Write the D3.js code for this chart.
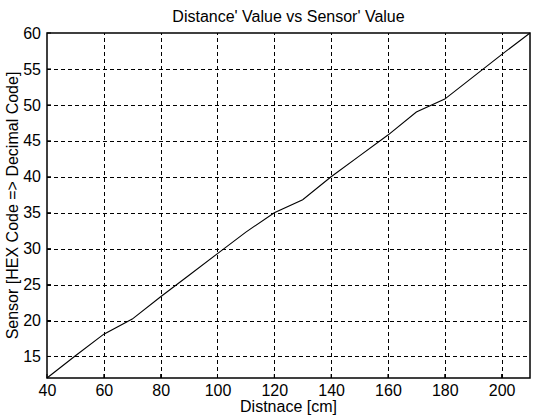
<!DOCTYPE html>
<html>
<head>
<meta charset="utf-8">
<script src="https://cdn.jsdelivr.net/npm/d3@7"></script>
<style>
  html, body { margin: 0; padding: 0; background: #fff; }
  svg { display: block; }
  text { font-family: "Liberation Sans", Arial, sans-serif; fill: #000; }
</style>
</head>
<body>
<svg id="chart" width="542" height="416"></svg>
<script>
// ---- data ----
const distance = [40, 50, 60, 70, 80, 90, 100, 110, 120, 130, 140, 150, 160, 170, 180, 190, 200, 210];
const sensor   = [12, 15.1, 18.1, 20.2, 23.3, 26.3, 29.3, 32.3, 35, 36.8, 40, 42.9, 45.8, 49, 50.8, 53.9, 57, 60];
const xTicks = [40, 60, 80, 100, 120, 140, 160, 180, 200];
const yTicks = [15, 20, 25, 30, 35, 40, 45, 50, 55, 60];
const xDomain = [40, 210];
const yDomain = [12, 60];
const titleText = "Distance' Value vs Sensor' Value";
const xLabelText = "Distnace [cm]";
const yLabelText = "Sensor [HEX Code => Decimal Code]";

// ---- layout ----
const W = 542, H = 416;
const m = { left: 47, right: 12, top: 33, bottom: 38 };
const svg = d3.select("#chart");
const x = d3.scaleLinear().domain(xDomain).range([m.left, W - m.right]);
const y = d3.scaleLinear().domain(yDomain).range([H - m.bottom, m.top]);
const fs = 16;

// grid
const grid = svg.append("g").attr("stroke", "#000").attr("stroke-width", 1)
  .attr("stroke-dasharray", "4,3").attr("fill", "none");
grid.selectAll("line.gx").data(xTicks.filter(d => d > xDomain[0] && d < xDomain[1]))
  .join("line").attr("class", "gx")
  .attr("x1", d => Math.round(x(d)) + 0.5).attr("x2", d => Math.round(x(d)) + 0.5)
  .attr("y1", y(yDomain[0])).attr("y2", y(yDomain[1]));
grid.selectAll("line.gy").data(yTicks.filter(d => d > yDomain[0] && d < yDomain[1]))
  .join("line").attr("class", "gy")
  .attr("y1", d => Math.round(y(d)) + 0.5).attr("y2", d => Math.round(y(d)) + 0.5)
  .attr("x1", x(xDomain[0])).attr("x2", x(xDomain[1]));

// axes
const xAxis = d3.axisBottom(x).tickValues(xTicks).tickSize(0).tickPadding(7).tickFormat(d3.format("d"));
const yAxis = d3.axisLeft(y).tickValues(yTicks).tickSize(0).tickPadding(6).tickFormat(d3.format("d"));
const gx = svg.append("g").attr("transform", `translate(0,${y(yDomain[0])})`).call(xAxis);
const gy = svg.append("g").attr("transform", `translate(${x(xDomain[0])},0)`).call(yAxis);
[gx, gy].forEach(g => {
  g.select(".domain").remove();
  g.selectAll("text").attr("font-size", fs).attr("font-family", "Liberation Sans, Arial, sans-serif");
});

// inward ticks
const tk = svg.append("g").attr("stroke", "#000").attr("stroke-width", 1);
tk.selectAll("line.tx").data(xTicks).join("line")
  .attr("x1", d => x(d)).attr("x2", d => x(d))
  .attr("y1", y(yDomain[0])).attr("y2", y(yDomain[0]) - 4);
tk.selectAll("line.ty").data(yTicks).join("line")
  .attr("y1", d => y(d)).attr("y2", d => y(d))
  .attr("x1", x(xDomain[0])).attr("x2", x(xDomain[0]) + 4);

// frame
svg.append("rect")
  .attr("x", x(xDomain[0])).attr("y", y(yDomain[1]))
  .attr("width", x(xDomain[1]) - x(xDomain[0])).attr("height", y(yDomain[0]) - y(yDomain[1]))
  .attr("fill", "none").attr("stroke", "#000").attr("stroke-width", 1.5);

// data line
const line = d3.line().x((d, i) => x(distance[i])).y(d => y(d));
svg.append("path").datum(sensor).attr("d", line)
  .attr("fill", "none").attr("stroke", "#000").attr("stroke-width", 1.1);

// title & labels
svg.append("text").attr("x", (x(xDomain[0]) + x(xDomain[1])) / 2).attr("y", 22)
  .attr("text-anchor", "middle").attr("font-size", fs).text(titleText);
svg.append("text").attr("x", (x(xDomain[0]) + x(xDomain[1])) / 2).attr("y", 412)
  .attr("text-anchor", "middle").attr("font-size", fs).text(xLabelText);
svg.append("text")
  .attr("transform", `translate(18,${(y(yDomain[0]) + y(yDomain[1])) / 2}) rotate(-90)`)
  .attr("text-anchor", "middle").attr("font-size", fs).text(yLabelText);
</script>
</body>
</html>
